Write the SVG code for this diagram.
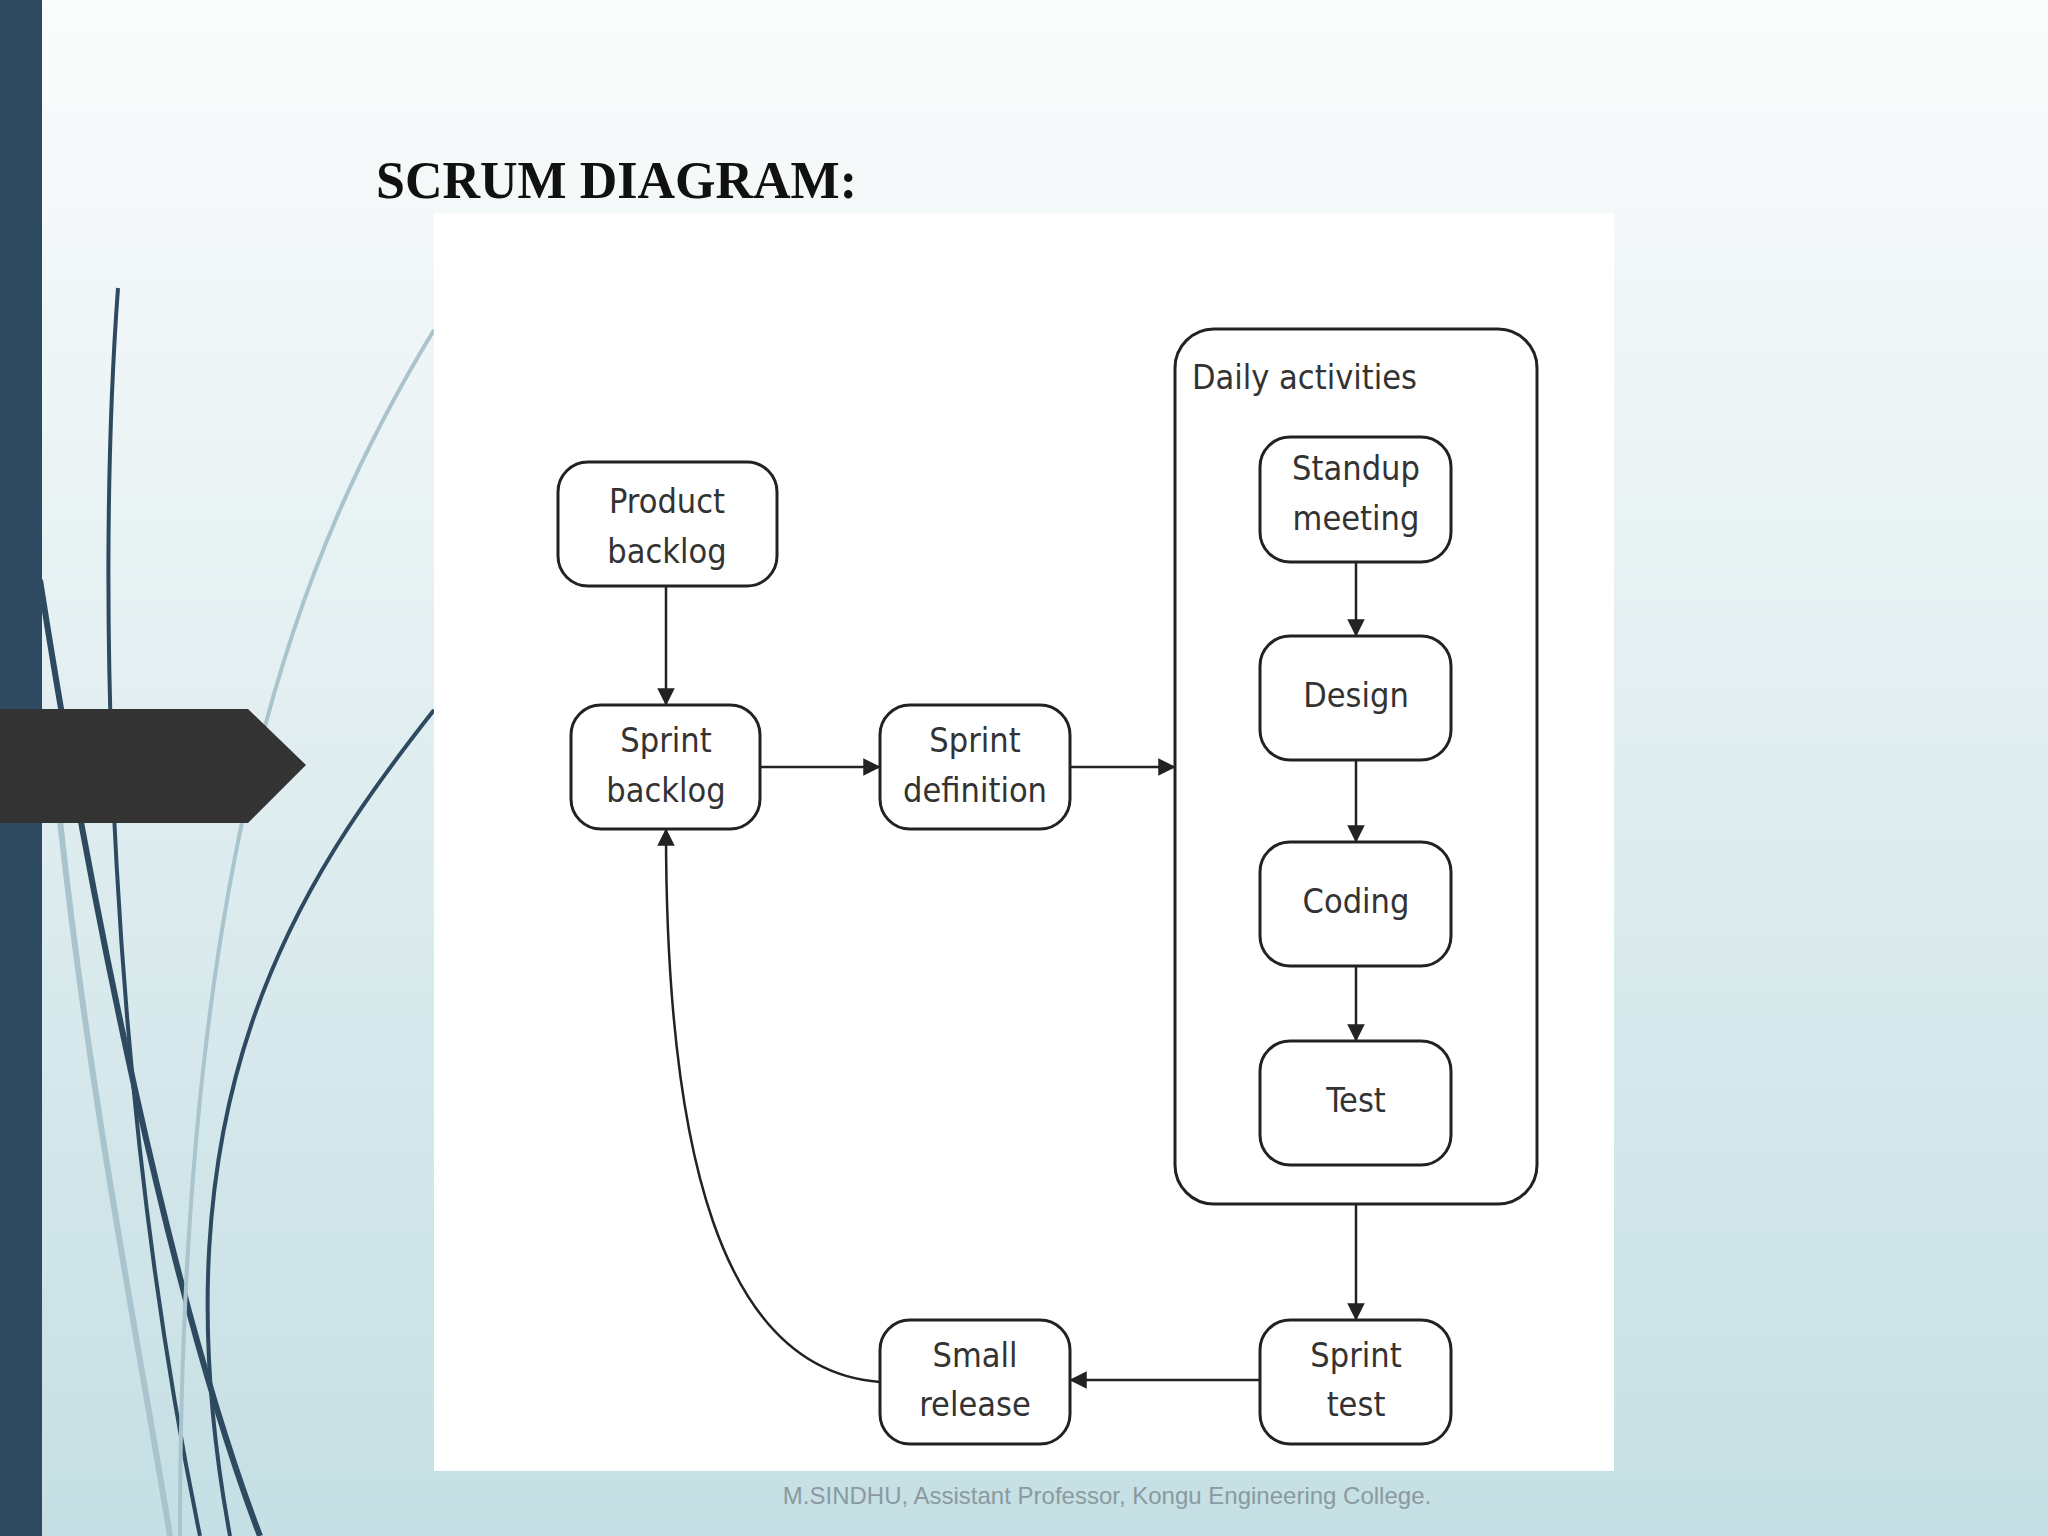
<svg xmlns="http://www.w3.org/2000/svg" width="2048" height="1536" viewBox="0 0 2048 1536">
<defs>
<linearGradient id="bg" x1="0" y1="0" x2="0" y2="1"><stop offset="0" stop-color="#fbfcfc"/><stop offset="1" stop-color="#c5dfe4"/></linearGradient>
<marker id="ah" viewBox="0 0 10 10" refX="9" refY="5" markerWidth="7" markerHeight="7" orient="auto"><path d="M0,0 L10,5 L0,10 z" fill="#222"/></marker>
<style>
.n{fill:#fff;stroke:#222;stroke-width:3}
.t{font-family:"DejaVu Sans Condensed","DejaVu Sans",sans-serif;font-size:34px;fill:#333;text-anchor:middle}
.c{fill:none;stroke:#222;stroke-width:2.5}
</style>
</defs>
<rect width="2048" height="1536" fill="url(#bg)"/>
<g fill="none" stroke-width="4">
<path d="M118,288 C95,600 110,1100 200,1536" stroke="#2d4a60"/>
<path d="M40,580 C90,900 170,1300 260,1536" stroke="#2d4a60" stroke-width="6"/>
<path d="M434,710 C300,880 150,1100 230,1536" stroke="#2d4a60"/>
<path d="M434,330 C300,550 180,850 180,1536" stroke="#a9c4cc"/>
<path d="M60,820 C90,1100 140,1350 170,1536" stroke="#a9c4cc" stroke-width="6"/>
</g>
<rect x="0" y="0" width="42" height="1536" fill="#2d4a60"/>
<polygon points="0,709 248,709 306,765 248,823 0,823" fill="#333"/>
<text x="376" y="198" font-family="Liberation Serif,serif" font-weight="bold" font-size="52" fill="#111">SCRUM DIAGRAM:</text>
<rect x="434" y="213" width="1180" height="1258" fill="#fff"/>
<g id="daily"><rect x="1175" y="329" width="362" height="875" rx="39" class="n"/><text x="1192" y="389" class="t" style="text-anchor:start">Daily activities</text></g>
<g id="product"><rect x="558" y="462" width="219" height="124" rx="30" class="n"/><text x="667" y="513" class="t">Product</text><text x="667" y="563" class="t">backlog</text></g>
<g id="sbacklog"><rect x="571" y="705" width="189" height="124" rx="30" class="n"/><text x="666" y="752" class="t">Sprint</text><text x="666" y="802" class="t">backlog</text></g>
<g id="sdef"><rect x="880" y="705" width="190" height="124" rx="30" class="n"/><text x="975" y="752" class="t">Sprint</text><text x="975" y="802" class="t">definition</text></g>
<g id="standup"><rect x="1260" y="437" width="191" height="125" rx="30" class="n"/><text x="1356" y="480" class="t">Standup</text><text x="1356" y="530" class="t">meeting</text></g>
<g id="design"><rect x="1260" y="636" width="191" height="124" rx="30" class="n"/><text x="1356" y="707" class="t">Design</text></g>
<g id="coding"><rect x="1260" y="842" width="191" height="124" rx="30" class="n"/><text x="1356" y="913" class="t">Coding</text></g>
<g id="test"><rect x="1260" y="1041" width="191" height="124" rx="30" class="n"/><text x="1356" y="1112" class="t">Test</text></g>
<g id="stest"><rect x="1260" y="1320" width="191" height="124" rx="30" class="n"/><text x="1356" y="1367" class="t">Sprint</text><text x="1356" y="1416" class="t">test</text></g>
<g id="release"><rect x="880" y="1320" width="190" height="124" rx="30" class="n"/><text x="975" y="1367" class="t">Small</text><text x="975" y="1416" class="t">release</text></g>
<g id="connectors">
<path d="M666,586 V704" class="c" marker-end="url(#ah)"/>
<path d="M760,767 H879" class="c" marker-end="url(#ah)"/>
<path d="M1070,767 H1174" class="c" marker-end="url(#ah)"/>
<path d="M1356,562 V635" class="c" marker-end="url(#ah)"/>
<path d="M1356,760 V841" class="c" marker-end="url(#ah)"/>
<path d="M1356,966 V1040" class="c" marker-end="url(#ah)"/>
<path d="M1356,1204 V1319" class="c" marker-end="url(#ah)"/>
<path d="M1260,1380 H1071" class="c" stroke-width="4" marker-end="url(#ah)"/>
<path d="M880,1382 C720,1370 666,1150 666,830" class="c" marker-end="url(#ah)"/>
</g>
<text x="1107" y="1504" font-family="Liberation Sans,sans-serif" font-size="24" fill="#8a9a9e" text-anchor="middle">M.SINDHU, Assistant Professor, Kongu Engineering College.</text>
</svg>
